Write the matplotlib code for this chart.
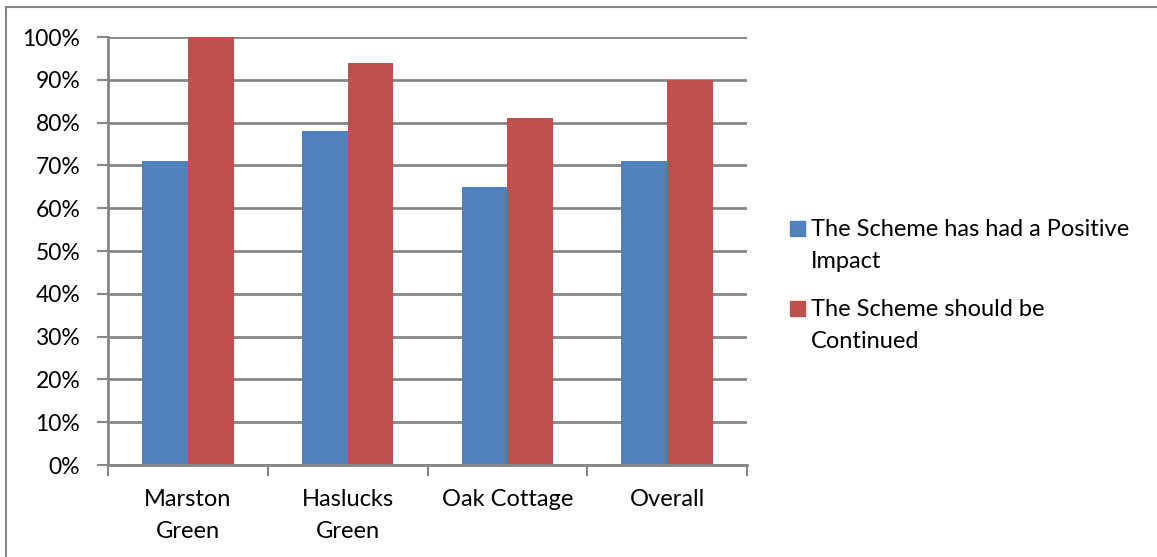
import numpy as np
import matplotlib
matplotlib.use('Agg')
import matplotlib.pyplot as plt
from matplotlib.patches import Rectangle

# data
categories = ['Marston\nGreen', 'Haslucks\nGreen', 'Oak Cottage', 'Overall']
positive_impact = [71, 78, 65, 71]
should_continue = [100, 94, 81, 90]
series_names = ['The Scheme has had a Positive\nImpact', 'The Scheme should be\nContinued']
yticks = np.arange(0, 101, 10)

plt.rcParams['font.family'] = ['Lato', 'DejaVu Sans']

W, H = 1157, 557
fig = plt.figure(figsize=(W / 100, H / 100), dpi=100)
ax = fig.add_axes([108 / W, 1 - 465 / H, (747 - 108) / W, (465 - 37) / H])

grey = '#868686'
blue = '#4f81bd'
red = '#c0504d'
colors = [blue, red]
fs = 17

x = np.arange(len(categories))
bw = 1 / 3.5
ax.bar(x - bw / 2, positive_impact, bw, color=blue, zorder=3)
ax.bar(x + bw / 2, should_continue, bw, color=red, zorder=3)

ax.set_xlim(-0.5, len(categories) - 0.5)
ax.set_ylim(0, 100)
ax.set_yticks(yticks)
ax.set_yticklabels([f'{v}%' for v in yticks])
ax.yaxis.grid(True, color=grey, linewidth=2, zorder=0)

# category labels between boundary ticks
ax.set_xticks(np.arange(-0.5, len(categories), 1))
ax.set_xticklabels([])
ax.set_xticks(x, minor=True)
ax.set_xticklabels(categories, minor=True, fontsize=fs, linespacing=1.6)
ax.tick_params(axis='x', which='minor', length=0, pad=17.5)
ax.tick_params(axis='x', which='major', length=8, width=1.5, color=grey)
ax.tick_params(axis='y', length=8, width=1.5, color=grey, labelsize=16.5, pad=12)

for s in ['top', 'right']:
    ax.spines[s].set_visible(False)
for s in ['left', 'bottom']:
    ax.spines[s].set_color(grey)
    ax.spines[s].set_linewidth(2)
ax.spines['bottom'].set_zorder(4)

# legend drawn by hand: square lines up with the first text line
for i, (name, c) in enumerate(zip(series_names, colors)):
    y0 = 236 + 80 * i
    fig.patches.append(Rectangle((790 / W, 1 - y0 / H), 15 / W, 15 / H,
                                 transform=fig.transFigure, color=c))
    for j, line in enumerate(name.split('\n')):
        fig.text(811 / W, 1 - (y0 + 32 * j) / H, line, fontsize=fs,
                 va='baseline', ha='left')

# outer chart border, cut off at right and bottom
fig.patches.append(Rectangle((6 / W, -0.1), 1.2, 1 - 7 / H + 0.1,
                             transform=fig.transFigure, fill=False,
                             edgecolor=grey, linewidth=1.5))

fig.savefig('out.png', dpi=100)
